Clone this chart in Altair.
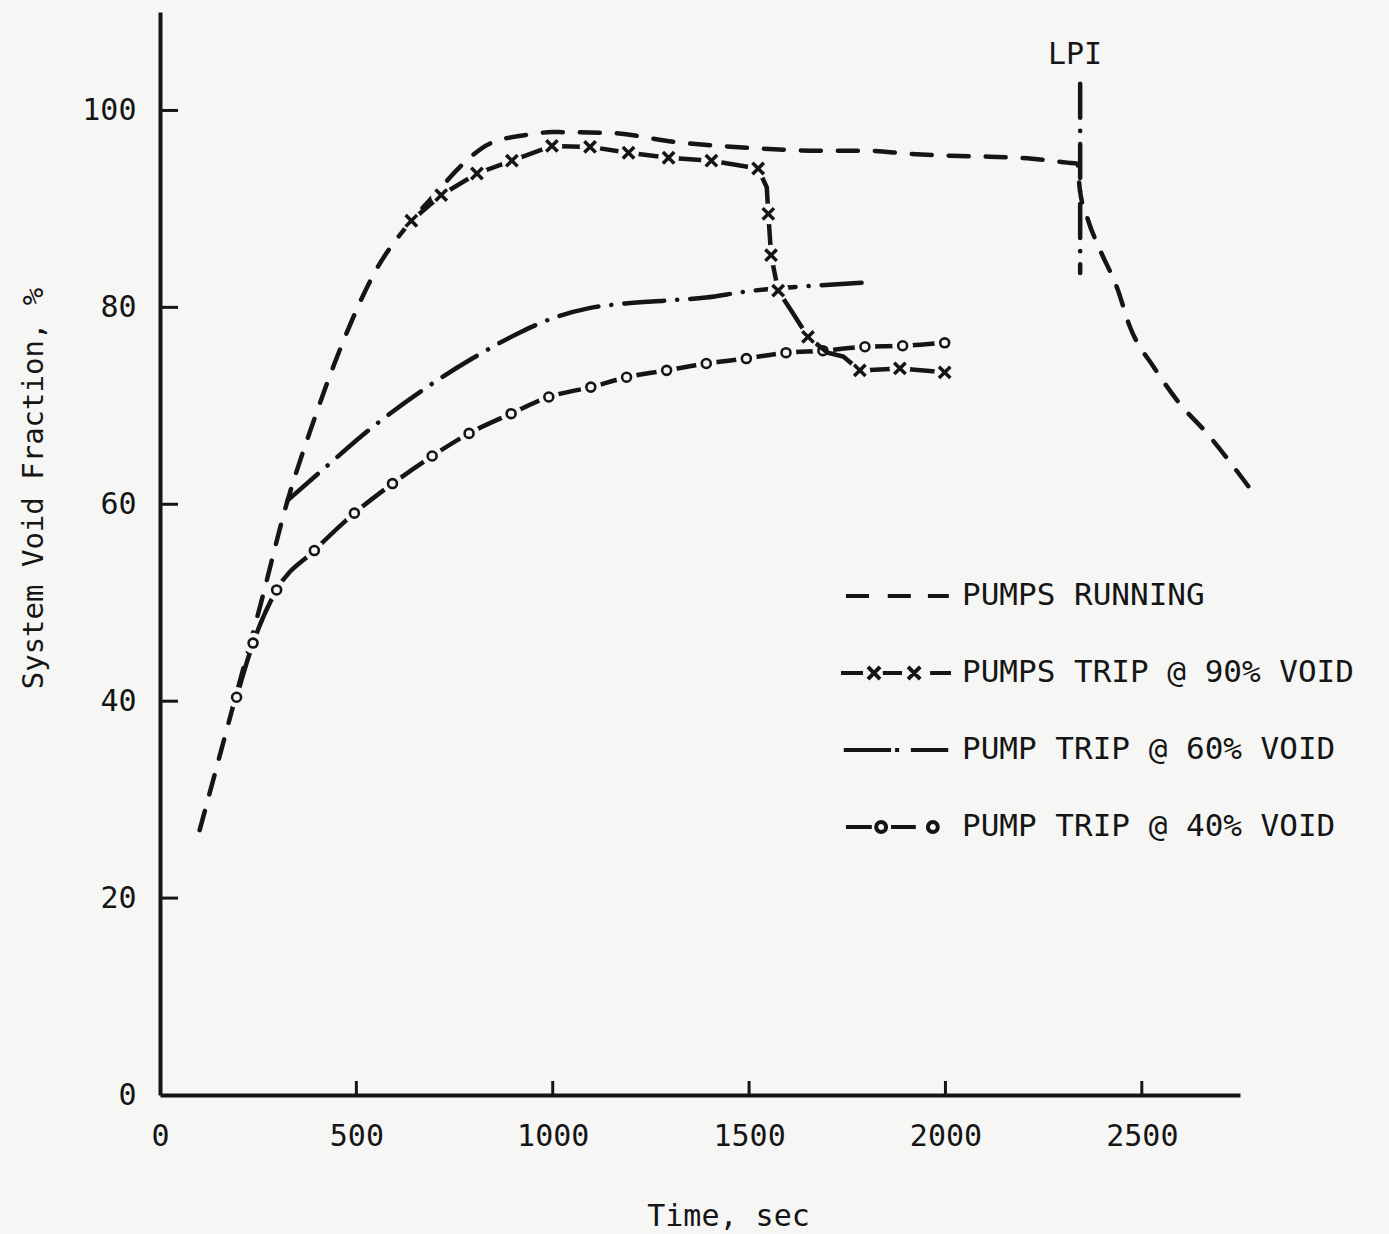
import altair as alt
import pandas as pd

# ---------------- data ----------------
series_names = ["PUMPS RUNNING", "PUMPS TRIP @ 90% VOID",
                "PUMP TRIP @ 60% VOID", "PUMP TRIP @ 40% VOID"]

running_t = [101, 195, 254, 325, 389, 462, 546, 640, 703, 762, 838, 931, 1000,
             1150, 1312, 1500, 1700, 1810, 1904, 2013, 2112, 2221, 2310, 2336,
             2342, 2362, 2394, 2437, 2470, 2531, 2597, 2666, 2734, 2792]
running_v = [26.9, 40.8, 49.5, 60.4, 68.2, 76.1, 83.5, 88.8, 91.6, 94.2, 96.6,
             97.5, 97.8, 97.7, 96.8, 96.2, 95.9, 95.9, 95.6, 95.4, 95.3, 95.1,
             94.7, 94.6, 92.0, 89.0, 85.8, 82.0, 78.0, 73.9, 70.2, 67.2, 63.8, 60.7]

trip90_t = [640, 716, 807, 896, 998, 1095, 1193, 1295, 1404, 1523, 1545, 1549,
            1556, 1574, 1610, 1650, 1700, 1740, 1782, 1884, 1998]
trip90_v = [88.8, 91.4, 93.6, 94.9, 96.4, 96.3, 95.7, 95.2, 94.9, 94.1, 92.2,
            89.5, 85.3, 81.7, 79.5, 77.0, 75.4, 75.0, 73.6, 73.8, 73.4]
trip90_marker = [1, 1, 1, 1, 1, 1, 1, 1, 1, 1, 0, 1,
                 1, 1, 0, 1, 0, 0, 1, 1, 1]

trip60_t = [325, 414, 540, 680, 795, 914, 1000, 1090, 1185, 1290, 1390, 1490,
            1560, 1665, 1790]
trip60_v = [60.4, 63.5, 67.8, 71.9, 74.8, 77.4, 78.9, 79.9, 80.4, 80.7, 81.0,
            81.6, 81.9, 82.2, 82.5]

trip40_t = [195, 237, 297, 393, 495, 592, 693, 787, 894, 990, 1097, 1188, 1290,
            1391, 1493, 1594, 1688, 1795, 1891, 1998]
trip40_v = [40.4, 45.9, 51.3, 55.3, 59.1, 62.1, 64.9, 67.2, 69.2, 70.9, 71.9,
            72.9, 73.6, 74.3, 74.8, 75.4, 75.6, 76.0, 76.1, 76.4]

lpi_t = [2343]
lpi_top = [102.7]
lpi_bottom = [83.5]
lpi_label = ["LPI"]
lpi_label_t = [2330]
lpi_label_v = [104.7]

x_ticks = [0, 500, 1000, 1500, 2000, 2500]
y_ticks = [0, 20, 40, 60, 80, 100]

# ---------------- style ----------------
INK = "#151515"
BG = "#f6f6f4"
FONT = "DejaVu Sans Mono"

xs = alt.Scale(domain=[0, 2750], nice=False, zero=False)
ys = alt.Scale(domain=[0, 110], nice=False, zero=False)

running_df = pd.DataFrame({"t": running_t, "v": running_v})
trip90_df = pd.DataFrame({"t": trip90_t, "v": trip90_v, "m": trip90_marker})
trip90_pts = trip90_df[trip90_df["m"] == 1]
trip60_df = pd.DataFrame({"t": trip60_t, "v": trip60_v})
trip40_df = pd.DataFrame({"t": trip40_t, "v": trip40_v})
lpi_df = pd.DataFrame({"t": lpi_t, "v": lpi_top, "bottom": lpi_bottom})
lpi_text_df = pd.DataFrame({"t": lpi_label_t, "v": lpi_label_v, "label": lpi_label})
legend_df = pd.DataFrame({"series": series_names,
                          "t": [running_t[0], trip90_t[0], trip60_t[0], trip40_t[0]],
                          "v": [running_v[0], trip90_v[0], trip60_v[0], trip40_v[0]]})
xtick_df = pd.DataFrame({"t": x_ticks[1:], "v": [0] * (len(x_ticks) - 1)})
ytick_df = pd.DataFrame({"v": y_ticks[1:], "t": [0] * (len(y_ticks) - 1)})

main_x_axis = alt.Axis(values=x_ticks, ticks=False, grid=False, domainWidth=4,
                       domainColor=INK, labelFont=FONT, labelFontSize=30,
                       labelColor=INK, labelPadding=26, labelFlush=False,
                       format="d",
                       title="Time, sec", titleFont=FONT, titleFontSize=30,
                       titleFontWeight="normal", titleColor=INK, titleX=568,
                       titleY=106, titleBaseline="top", titleAlign="center")
main_y_axis = alt.Axis(values=y_ticks, ticks=False, grid=False, domainWidth=4,
                       domainColor=INK, labelFont=FONT, labelFontSize=30,
                       labelColor=INK, labelPadding=24, format="d",
                       title="System Void Fraction, %", titleFont=FONT,
                       titleFontSize=29, titleFontWeight="normal", titleColor=INK,
                       titleAngle=270, titleX=-118, titleY=476,
                       titleBaseline="alphabetic", titleAlign="center")

X = alt.X("t:Q", scale=xs, axis=main_x_axis, title="Time, sec")
Y = alt.Y("v:Q", scale=ys, axis=main_y_axis, title="System Void Fraction, %")

running_line = alt.Chart(running_df).mark_line(
    color=INK, strokeWidth=4.5, strokeDash=[20, 17], strokeCap="round",
    interpolate="monotone"
).encode(x=X, y=Y, order="t:Q")

# inward-pointing tick marks at the axis tick values
x_tick_marks = alt.Chart(xtick_df).mark_tick(
    orient="vertical", size=14, thickness=3, color=INK, yOffset=-7, opacity=1
).encode(x=X, y=Y)
y_tick_marks = alt.Chart(ytick_df).mark_tick(
    orient="horizontal", size=18, thickness=3, color=INK, xOffset=9, opacity=1
).encode(x=X, y=Y)

trip60_line = alt.Chart(trip60_df).mark_line(
    color=INK, strokeWidth=4.5, strokeDash=[40, 13, 0.1, 13], strokeCap="round",
    interpolate="monotone"
).encode(x=X, y=Y, order="t:Q")

trip40_line = alt.Chart(trip40_df).mark_line(
    color=INK, strokeWidth=4.5, strokeCap="round", interpolate="monotone"
).encode(x=X, y=Y, order="t:Q")
trip40_halo = alt.Chart(trip40_df).mark_point(
    shape="circle", filled=True, color=BG, size=430, opacity=1
).encode(x=X, y=Y)
trip40_pts = alt.Chart(trip40_df).mark_point(
    shape="circle", filled=True, fill=BG, stroke=INK, strokeWidth=2.6, size=80,
    opacity=1
).encode(x=X, y=Y)

trip90_line = alt.Chart(trip90_df).mark_line(
    color=INK, strokeWidth=4.5, strokeCap="round"
).encode(x=X, y=Y, order="t:Q")
trip90_halo = alt.Chart(trip90_pts).mark_point(
    shape="circle", filled=True, color=BG, size=430, opacity=1
).encode(x=X, y=Y)
trip90_mk = alt.Chart(trip90_pts).mark_point(
    shape="M-1,-1L1,1M-1,1L1,-1", filled=False, color=INK, strokeWidth=3.5,
    size=130, opacity=1
).encode(x=X, y=Y)

lpi_rule = alt.Chart(lpi_df).mark_rule(
    color=INK, strokeWidth=4.5, strokeDash=[34, 13, 0.1, 13], strokeCap="round"
).encode(x=X, y=Y, y2="bottom:Q")
lpi_text = alt.Chart(lpi_text_df).mark_text(
    font=FONT, fontSize=30, color=INK, align="center", baseline="alphabetic"
).encode(x=X, y=Y, text="label:N")

legend_paths = [
    "M-0.91,0L-0.49,0M-0.15,0L0.27,0M0.58,0L0.96,0",
    "M-1,0L-0.6,0M-0.51,-0.11L-0.29,0.11M-0.51,0.11L-0.29,-0.11M-0.24,0L0.11,0"
    "M0.22,-0.11L0.44,0.11M0.22,0.11L0.44,-0.11M0.62,0L1,0",
    "M-0.95,0L-0.09,0M0.02,-0.035L0.02,0.035M0.27,0L0.95,0",
    "M-0.91,0L-0.44,0M-0.36,0A0.09,0.09 0 1,0 -0.18,0A0.09,0.09 0 1,0 -0.36,0"
    "M-0.09,0L0.36,0M0.58,0A0.09,0.09 0 1,0 0.76,0A0.09,0.09 0 1,0 0.58,0",
]

legend_layer = alt.Chart(legend_df).mark_point(
    filled=False, color=INK, opacity=0
).encode(
    x=X, y=Y,
    shape=alt.Shape("series:N",
                    scale=alt.Scale(domain=series_names, range=legend_paths),
                    legend=alt.Legend(orient="none", legendX=679, legendY=527,
                                      title=None, symbolSize=12100,
                                      symbolStrokeWidth=4, symbolStrokeColor=INK,
                                      symbolFillColor="transparent",
                                      symbolOpacity=1, labelFont=FONT,
                                      labelFontSize=31, labelColor=INK,
                                      labelOffset=9, labelLimit=700,
                                      rowPadding=5, padding=0))
)

chart = alt.layer(
    running_line, x_tick_marks, y_tick_marks, trip60_line, trip40_line,
    trip40_halo, trip40_pts, trip90_line, trip90_halo, trip90_mk, lpi_rule,
    lpi_text, legend_layer
).properties(
    width=1080, height=1083,
    autosize=alt.AutoSizeParams(type="none"),
    padding={"left": 160, "top": 12, "right": 149, "bottom": 139},
    background=BG
).configure_view(strokeWidth=0)

chart.save("out.html", embed_options={"renderer": "svg", "actions": False})
